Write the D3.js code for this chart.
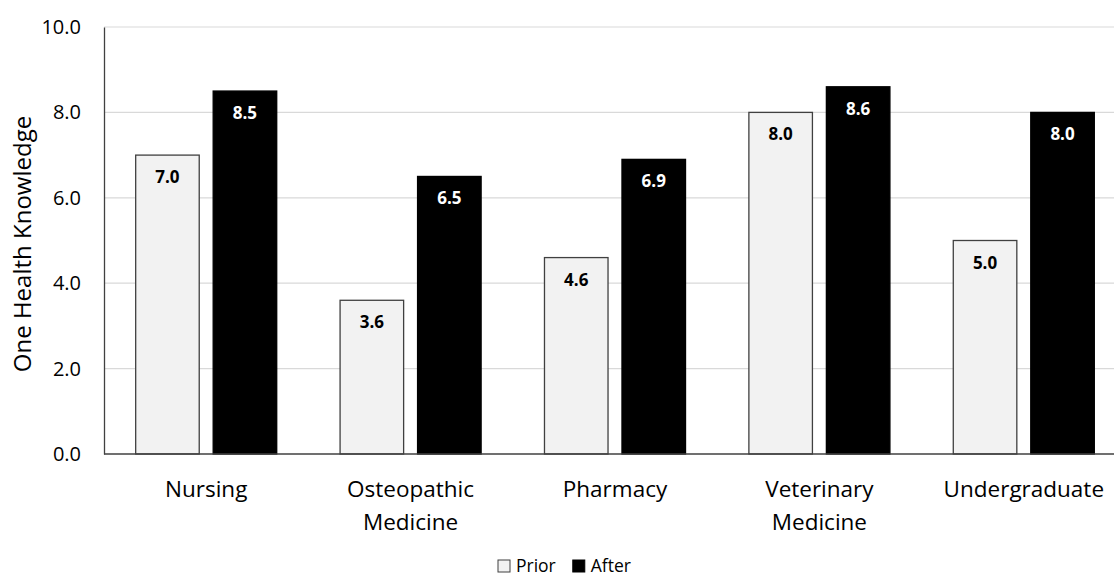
<!DOCTYPE html>
<html>
<head>
<meta charset="utf-8">
<script src="https://cdn.jsdelivr.net/npm/d3@7"></script>
<style>
  body { margin: 0; background: #fff; }
  svg { display: block; font-family: "Open Sans", sans-serif; }
</style>
</head>
<body>
<svg id="chart" width="1114" height="578"></svg>
<script>
const categories = [["Nursing"], ["Osteopathic", "Medicine"], ["Pharmacy"], ["Veterinary", "Medicine"], ["Undergraduate"]];
const seriesNames = ["Prior", "After"];
const priorValues = [7.0, 3.6, 4.6, 8.0, 5.0];
const afterValues = [8.5, 6.5, 6.9, 8.6, 8.0];
const yTicks = [0, 2, 4, 6, 8, 10];
const yTitle = "One Health Knowledge";

const svg = d3.select("#chart");
const plotLeft = 104, plotRight = 1126, plotTop = 27, plotBottom = 454;
const fills = { Prior: "#f2f2f2", After: "#000000" };

const keys = categories.map(c => c.join(" "));
const rows = keys.map((k, i) => ({ key: k, Prior: priorValues[i], After: afterValues[i] }));

const x0 = d3.scaleBand().domain(keys).range([plotLeft, plotRight]).paddingInner(0.31).paddingOuter(0.155);
const x1 = d3.scaleBand().domain(seriesNames).range([0, x0.bandwidth()]).paddingInner(0.18);
const y = d3.scaleLinear().domain([0, 10]).range([plotBottom, plotTop]);

// gridlines
svg.append("g")
   .selectAll("line")
   .data(yTicks.filter(t => t > 0))
   .join("line")
   .attr("x1", plotLeft).attr("x2", plotRight)
   .attr("y1", d => y(d)).attr("y2", d => y(d))
   .attr("stroke", "#d9d9d9").attr("stroke-width", 1.2);

// y axis
const yAxis = svg.append("g")
   .attr("transform", "translate(" + plotLeft + ",0)")
   .call(d3.axisLeft(y).tickValues(yTicks).tickFormat(d3.format(".1f")).tickSize(0).tickPadding(23));
yAxis.select(".domain").attr("stroke", "#404040").attr("stroke-width", 1.3);
yAxis.selectAll("text").attr("font-size", 20).attr("fill", "#000").attr("font-family", "Open Sans");

// bars
const groups = svg.append("g")
   .selectAll("g")
   .data(rows)
   .join("g")
   .attr("transform", d => "translate(" + x0(d.key) + ",0)");

groups.selectAll("rect")
   .data(d => seriesNames.map(s => ({ s: s, v: d[s] })))
   .join("rect")
   .attr("x", d => x1(d.s))
   .attr("y", d => y(d.v))
   .attr("width", x1.bandwidth())
   .attr("height", d => y(0) - y(d.v))
   .attr("fill", d => fills[d.s])
   .attr("stroke", d => d.s === "Prior" ? "#404040" : "#000")
   .attr("stroke-width", 1.3);

groups.selectAll("text")
   .data(d => seriesNames.map(s => ({ s: s, v: d[s] })))
   .join("text")
   .attr("x", d => x1(d.s) + x1.bandwidth() / 2)
   .attr("y", d => y(d.v) + 28)
   .attr("text-anchor", "middle")
   .attr("font-size", 17)
   .attr("font-weight", "bold")
   .attr("fill", d => d.s === "Prior" ? "#000" : "#fff")
   .text(d => d.v.toFixed(1));

// baseline
svg.append("line")
   .attr("x1", plotLeft).attr("x2", plotRight)
   .attr("y1", y(0)).attr("y2", y(0))
   .attr("stroke", "#404040").attr("stroke-width", 1.3);

// category labels
const xAxis = svg.append("g");
categories.forEach((lines, i) => {
  const t = xAxis.append("text")
     .attr("x", x0(keys[i]) + x0.bandwidth() / 2)
     .attr("y", 497)
     .attr("text-anchor", "middle")
     .attr("font-size", 22.5)
     .attr("fill", "#000");
  lines.forEach((ln, j) => {
    t.append("tspan")
     .attr("x", x0(keys[i]) + x0.bandwidth() / 2)
     .attr("dy", j === 0 ? 0 : 33)
     .text(ln);
  });
});

// y title
svg.append("text")
   .attr("transform", "translate(31,244) rotate(-90)")
   .attr("text-anchor", "middle")
   .attr("font-size", 24)
   .attr("fill", "#000")
   .text(yTitle);

// legend
const legend = svg.append("g").attr("transform", "translate(498,572)");
let lx = 0;
seriesNames.forEach(s => {
  legend.append("rect")
     .attr("x", lx).attr("y", -12)
     .attr("width", 12).attr("height", 12)
     .attr("fill", fills[s])
     .attr("stroke", s === "Prior" ? "#404040" : "#000")
     .attr("stroke-width", 1);
  const txt = legend.append("text")
     .attr("x", lx + 18).attr("y", 0)
     .attr("font-size", 17.5)
     .attr("fill", "#000")
     .text(s);
  lx += 18 + txt.node().getComputedTextLength() + 17;
});
</script>
</body>
</html>
